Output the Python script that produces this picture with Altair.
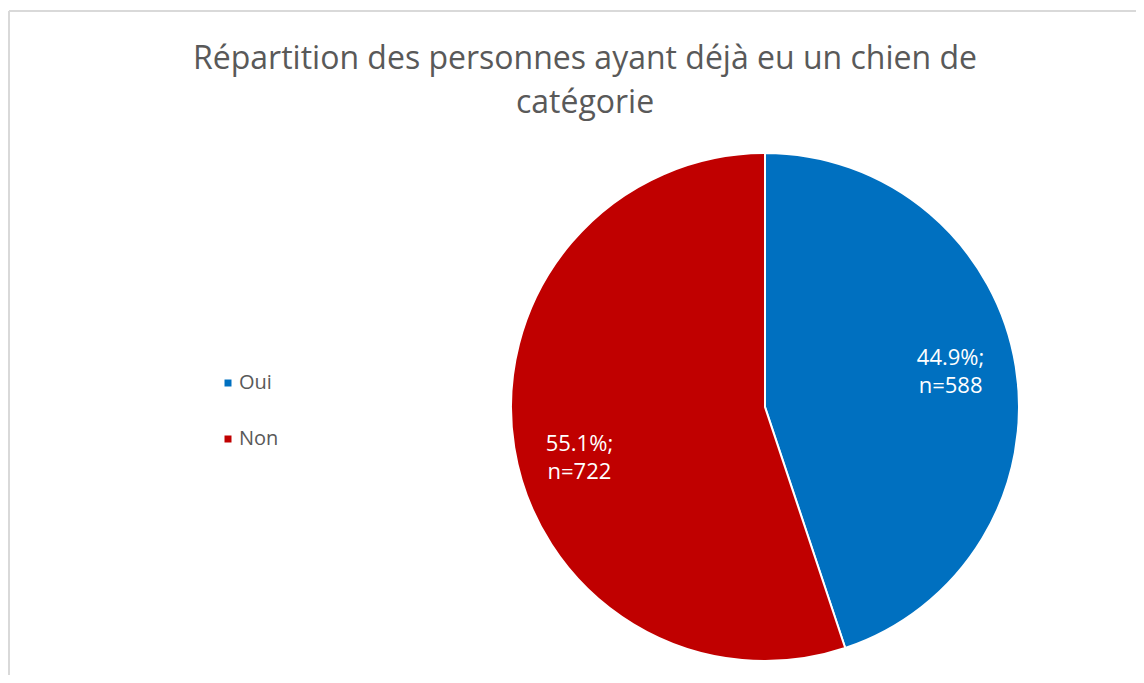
import altair as alt
import pandas as pd

categories = ["Oui", "Non"]
counts = [588, 722]
percents = [44.9, 55.1]
ordre = [0, 1]
colors = ["#0070C0", "#C00000"]
title_lines = ["Répartition des personnes ayant déjà eu un chien de", "catégorie"]

df = pd.DataFrame({
    "reponse": categories,
    "n": counts,
    "pct": percents,
    "ordre": ordre,
})
df["label"] = [f"{p}%;\nn={n}" for p, n in zip(percents, counts)]
df_title = pd.DataFrame({"titre": ["\n".join(title_lines)]})

FONT = "Open Sans"
TOP = 130  # padding above plot area (holds the title)
CX, CY, R = 757, 269, 254

pie = alt.Chart(df).mark_arc(outerRadius=R, stroke="white", strokeWidth=2).encode(
    theta=alt.Theta("n:Q", stack=True),
    order=alt.Order("ordre:Q"),
    x=alt.value(CX),
    y=alt.value(CY),
    color=alt.Color(
        "reponse:N",
        scale=alt.Scale(domain=categories, range=colors),
        legend=alt.Legend(
            title=None,
            orient="none",
            legendX=210,
            legendY=235,
            symbolType="square",
            symbolSize=49,
            symbolStrokeWidth=0,
            labelFontSize=20,
            labelFont=FONT,
            labelColor="#595959",
            rowPadding=36,
            labelOffset=1,
        ),
    ),
)

def label_layer(cat, dy):
    return (
        alt.Chart(df)
        .transform_joinaggregate(total="sum(n)")
        .transform_window(cum="sum(n)", sort=[alt.SortField("ordre")])
        .transform_calculate(mid="(datum.cum - datum.n / 2) / datum.total")
        .transform_filter(alt.datum.reponse == cat)
        .mark_text(
            radius=188, color="white", fontSize=22, font=FONT,
            lineBreak="\n", lineHeight=28, dy=dy,
        )
        .encode(
            theta=alt.Theta("mid:Q", scale=alt.Scale(domain=[0, 1], range=[0, 6.283185307])),
            x=alt.value(CX),
            y=alt.value(CY),
            text="label:N",
        )
    )

labels_oui = label_layer("Oui", -19)
labels_non = label_layer("Non", 7)

title = alt.Chart(df_title).mark_text(
    font=FONT, fontSize=32, color="#595959", lineBreak="\n", lineHeight=44,
    align="center", baseline="middle",
).encode(
    x=alt.value(577),
    y=alt.value(-79),
    text="titre:N",
)

border_top = alt.Chart(df_title).mark_rule(color="#d9d9d9", strokeWidth=2).encode(
    x=alt.value(1), x2=alt.value(1140), y=alt.value(-127)
)
border_left = alt.Chart(df_title).mark_rule(color="#d9d9d9", strokeWidth=2).encode(
    x=alt.value(1), y=alt.value(-127), y2=alt.value(560)
)

chart = (
    alt.layer(border_top, border_left, title, pie, labels_oui, labels_non)
    .properties(
        width=1128,
        height=537,
        padding={"top": TOP, "left": 0, "right": 0, "bottom": 0},
        autosize=alt.AutoSizeParams(type="none"),
    )
    .resolve_scale(theta="independent")
    .configure_view(stroke=None)
)

chart.save("out.html", embed_options={"renderer": "svg", "actions": False})
